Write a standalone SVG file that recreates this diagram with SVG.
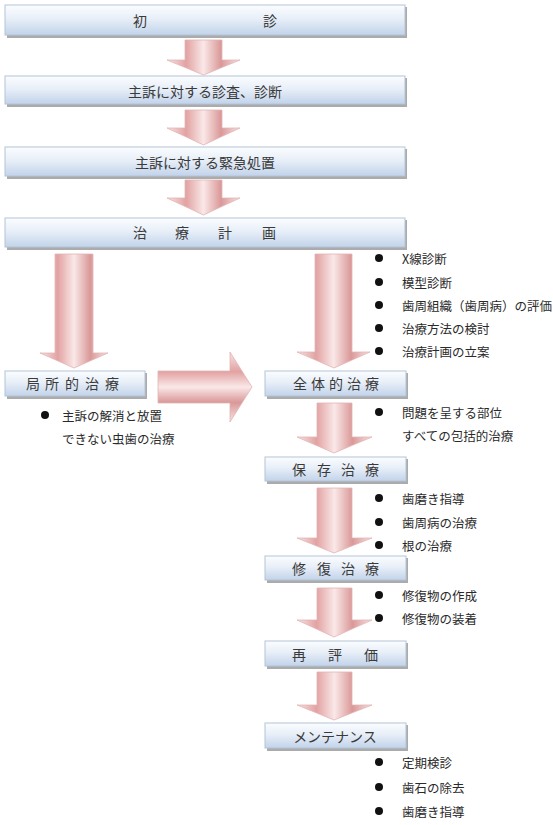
<svg xmlns="http://www.w3.org/2000/svg" width="553" height="825" viewBox="0 0 553 825">
<defs>
<linearGradient id="boxg" x1="0" y1="0" x2="0" y2="1">
<stop offset="0" stop-color="#fbfdff"/>
<stop offset="0.45" stop-color="#e8eff8"/>
<stop offset="1" stop-color="#c2d3ea"/>
</linearGradient>
<linearGradient id="arrv" x1="0" y1="0" x2="1" y2="0">
<stop offset="0" stop-color="#f8e4e4"/>
<stop offset="0.26" stop-color="#e2a2a2"/>
<stop offset="0.5" stop-color="#fae8e8"/>
<stop offset="0.74" stop-color="#da9898"/>
<stop offset="1" stop-color="#f8e4e4"/>
</linearGradient>
<linearGradient id="arrh" x1="0" y1="0" x2="0" y2="1">
<stop offset="0" stop-color="#f8e4e4"/>
<stop offset="0.28" stop-color="#e2a2a2"/>
<stop offset="0.5" stop-color="#fae8e8"/>
<stop offset="0.72" stop-color="#da9898"/>
<stop offset="1" stop-color="#f8e4e4"/>
</linearGradient>
</defs>
<style>
.box{fill:url(#boxg);stroke:#b4c4d8;stroke-width:1}
.sh{fill:#8f8f8f;opacity:0.75}
.lbl{font-family:"Noto Sans CJK JP","Noto Sans",sans-serif;font-size:14px;fill:#3a3a3a;text-anchor:middle;dominant-baseline:central}
.bt{font-family:"Noto Sans CJK JP","Noto Sans",sans-serif;font-size:12.5px;fill:#2a2a2a;dominant-baseline:central}
.dot{fill:#111}
.av{fill:url(#arrv);stroke:#e2b4b4;stroke-width:0.8}
.ah{fill:url(#arrh);stroke:#e2b4b4;stroke-width:0.8}
</style>

<g id="connectors">
<path class="av" d="M185,40 H222 V60 H240 L203.5,75 L167,60 H185 Z"/>
<path class="av" d="M185,110 H222 V128 H240 L203.5,145 L167,128 H185 Z"/>
<path class="av" d="M185,180 H222 V198 H240 L203.5,215 L167,198 H185 Z"/>
<path class="av" d="M55,254 H93 V353 H108 L74,368 L40,353 H55 Z"/>
<path class="av" d="M315,254 H352 V352 H370 L334,368 L297,352 H315 Z"/>
<path class="ah" d="M158,371 H230 V352 L252,387 L230,422 V403 H158 Z"/>
<path class="av" d="M317,403 H352 V437 H372 L334,453 L297,437 H317 Z"/>
<path class="av" d="M317,488 H352 V538 H372 L334,553 L297,538 H317 Z"/>
<path class="av" d="M317,588 H352 V620 H372 L334,637 L297,620 H317 Z"/>
<path class="av" d="M317,672 H352 V705 H372 L334,720 L297,705 H317 Z"/>
</g>

<g id="n1">
<rect class="sh" x="7" y="7" width="400" height="31"/>
<rect class="box" x="5" y="5" width="400" height="30"/>
<text class="lbl" x="140 270" y="20">初診</text>
</g>
<g id="n2">
<rect class="sh" x="7" y="78" width="400" height="29"/>
<rect class="box" x="5" y="76" width="400" height="28"/>
<text class="lbl" x="205" y="91">主訴に対する診査、診断</text>
</g>
<g id="n3">
<rect class="sh" x="7" y="149" width="400" height="30"/>
<rect class="box" x="5" y="147" width="400" height="29"/>
<text class="lbl" x="205" y="162">主訴に対する緊急処置</text>
</g>
<g id="n4">
<rect class="sh" x="7" y="220" width="400" height="30"/>
<rect class="box" x="5" y="218" width="400" height="29"/>
<text class="lbl" x="140 182 225 269" y="232">治療計画</text>
</g>

<g id="n5">
<rect class="sh" x="7" y="373" width="140" height="26"/>
<rect class="box" x="5" y="371" width="140" height="25"/>
<text class="lbl" x="33 52 72 92 112" y="383">局所的治療</text>
</g>
<g id="n5-notes">
<circle class="dot" cx="45" cy="415" r="4"/>
<text class="bt" x="62" y="415">主訴の解消と放置</text>
<text class="bt" x="62" y="438">できない虫歯の治療</text>
</g>

<g id="n6">
<rect class="sh" x="267" y="373" width="141" height="26"/>
<rect class="box" x="265" y="371" width="141" height="25"/>
<text class="lbl" x="300 318 336 354 372" y="383">全体的治療</text>
</g>
<g id="n6-pre-notes">
<circle class="dot" cx="379" cy="258" r="4"/>
<text class="bt" x="402" y="258">X線診断</text>
<circle class="dot" cx="379" cy="282" r="4"/>
<text class="bt" x="402" y="282">模型診断</text>
<circle class="dot" cx="379" cy="305" r="4"/>
<text class="bt" x="402" y="305">歯周組織（歯周病）の評価</text>
<circle class="dot" cx="379" cy="328" r="4"/>
<text class="bt" x="402" y="328">治療方法の検討</text>
<circle class="dot" cx="379" cy="351" r="4"/>
<text class="bt" x="402" y="351">治療計画の立案</text>
</g>
<g id="n6-notes">
<circle class="dot" cx="379" cy="412" r="4"/>
<text class="bt" x="402" y="412">問題を呈する部位</text>
<text class="bt" x="402" y="435">すべての包括的治療</text>
</g>

<g id="n7">
<rect class="sh" x="267" y="459" width="141" height="25"/>
<rect class="box" x="265" y="457" width="141" height="24"/>
<text class="lbl" x="299 324 348 372" y="469">保存治療</text>
</g>
<g id="n7-notes">
<circle class="dot" cx="379" cy="498" r="4"/>
<text class="bt" x="402" y="498">歯磨き指導</text>
<circle class="dot" cx="379" cy="522" r="4"/>
<text class="bt" x="402" y="522">歯周病の治療</text>
<circle class="dot" cx="379" cy="545" r="4"/>
<text class="bt" x="402" y="545">根の治療</text>
</g>

<g id="n8">
<rect class="sh" x="267" y="558" width="141" height="25"/>
<rect class="box" x="265" y="556" width="141" height="24"/>
<text class="lbl" x="299 324 348 372" y="568">修復治療</text>
</g>
<g id="n8-notes">
<circle class="dot" cx="379" cy="595" r="4"/>
<text class="bt" x="402" y="595">修復物の作成</text>
<circle class="dot" cx="379" cy="618" r="4"/>
<text class="bt" x="402" y="618">修復物の装着</text>
</g>

<g id="n9">
<rect class="sh" x="267" y="643" width="141" height="26"/>
<rect class="box" x="265" y="641" width="141" height="25"/>
<text class="lbl" x="299 335 371" y="654">再評価</text>
</g>

<g id="n10">
<rect class="sh" x="267" y="725" width="141" height="26"/>
<rect class="box" x="265" y="723" width="141" height="25"/>
<text class="lbl" x="335" y="736">メンテナンス</text>
</g>
<g id="n10-notes">
<circle class="dot" cx="379" cy="762" r="4"/>
<text class="bt" x="402" y="762">定期検診</text>
<circle class="dot" cx="379" cy="787" r="4"/>
<text class="bt" x="402" y="787">歯石の除去</text>
<circle class="dot" cx="379" cy="811" r="4"/>
<text class="bt" x="402" y="811">歯磨き指導</text>
</g>
</svg>
